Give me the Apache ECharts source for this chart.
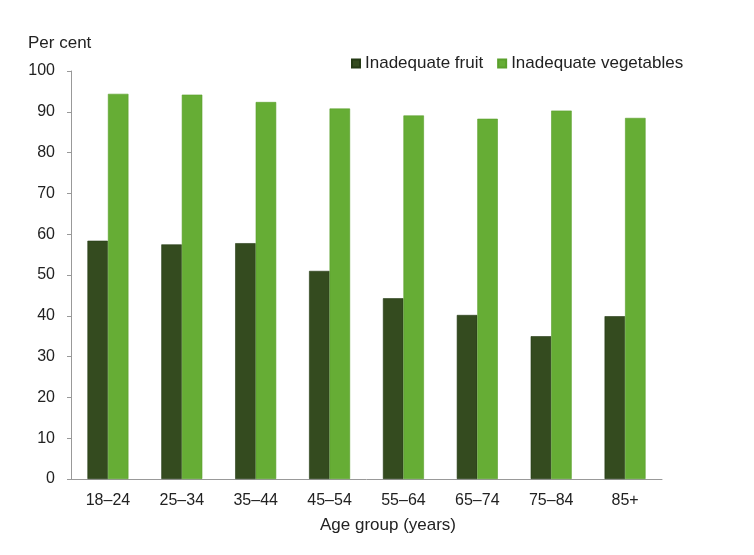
<!DOCTYPE html>
<html>
<head>
<meta charset="utf-8">
<script src="https://cdn.jsdelivr.net/npm/echarts@6/dist/echarts.min.js"></script>
<style>html,body{margin:0;padding:0;background:#fff}#c{width:754px;height:555px}</style>
</head>
<body>
<div id="c"></div>
<script>
const categories = ['18–24','25–34','35–44','45–54','55–64','65–74','75–84','85+'];
const fruit = [58.4, 57.5, 57.8, 51.0, 44.3, 40.2, 35.0, 39.9];
const vegetables = [94.4, 94.2, 92.4, 90.8, 89.1, 88.3, 90.3, 88.5];
const yTicks = [0, 10, 20, 30, 40, 50, 60, 70, 80, 90, 100];

const font = 'Liberation Sans, Arial, sans-serif';
const chart = echarts.init(document.getElementById('c'), null, {renderer: 'canvas'});
chart.setOption({
  backgroundColor: '#fff',
  animation: false,
  textStyle: {fontFamily: font},
  title: [
    {text: 'Per cent', left: 23, top: 30, textStyle: {fontSize: 17, fontWeight: 'normal', color: '#222', fontFamily: font}},
    {text: 'Age group (years)', left: 383, top: 512, textAlign: 'center', textStyle: {fontSize: 17, fontWeight: 'normal', color: '#222', fontFamily: font}}
  ],
  legend: {
    left: 346, top: 50,
    itemWidth: 8, itemHeight: 8, itemGap: 14,
    icon: 'rect',
    textStyle: {fontSize: 17, color: '#222', fontFamily: font},
    data: ['Inadequate fruit', 'Inadequate vegetables']
  },
  grid: {left: 71, right: 92, top: 71, bottom: 76, containLabel: false},
  xAxis: {
    type: 'category',
    data: categories,
    axisLine: {lineStyle: {color: '#999', width: 1}},
    axisTick: {show: false},
    axisLabel: {fontSize: 16, color: '#222', margin: 14, fontFamily: font}
  },
  yAxis: {
    type: 'value',
    min: yTicks[0], max: yTicks[yTicks.length - 1], interval: 10,
    axisLine: {show: true, lineStyle: {color: '#999', width: 1}},
    axisTick: {show: true, length: 4, lineStyle: {color: '#999'}},
    splitLine: {show: false},
    axisLabel: {fontSize: 16, color: '#222', margin: 16, fontFamily: font}
  },
  series: [
    {name: 'Inadequate fruit', type: 'bar', data: fruit, barWidth: 20.5, barGap: '0%',
     itemStyle: {color: '#344b1f', borderColor: '#243a14', borderWidth: 0.6}},
    {name: 'Inadequate vegetables', type: 'bar', data: vegetables, barWidth: 20.5,
     itemStyle: {color: '#66ad35', borderColor: '#5aa02c', borderWidth: 0.6}}
  ]
});
</script>
</body>
</html>
